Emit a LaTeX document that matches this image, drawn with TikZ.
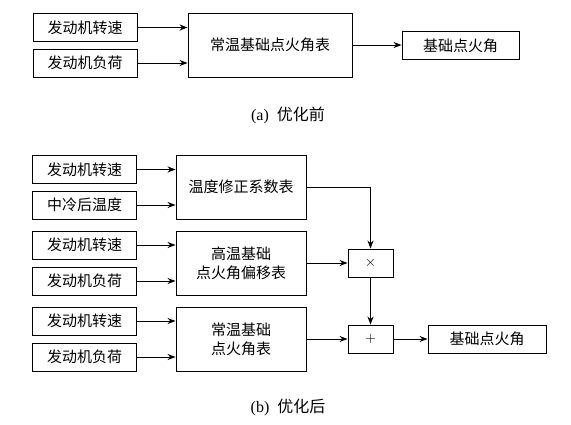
\documentclass[tikz,border=0pt]{standalone}
\usepackage{fontspec}
\newfontfamily\cjk{Noto Sans CJK SC}
\newfontfamily\capfont{Liberation Serif}
\usetikzlibrary{arrows.meta}

\tikzset{
  inbox/.style={draw, line width=0.9pt, minimum width=104pt, minimum height=28pt,
                inner sep=0pt, font=\cjk\fontsize{15}{18}\selectfont},
  tabbox/.style={draw, line width=0.9pt, minimum height=64pt, inner sep=0pt,
                 align=center, font=\cjk\fontsize{15}{19}\selectfont},
  opbox/.style={draw, line width=0.9pt, minimum width=45pt, minimum height=28pt,
                inner sep=0pt, font=\fontsize{15}{18}\selectfont},
  capnode/.style={font=\capfont\fontsize{16}{19}\selectfont},
  flow/.style={->, line width=0.9pt},
}

\begin{document}
\begin{tikzpicture}[x=1pt, y=-1pt, >={Stealth[length=8pt,width=6pt]}]
  \useasboundingbox (0,0) rectangle (571,425);
  % (a) before
  \node[inbox] (aspeed) at (85,27.5) {发动机转速};
  \node[inbox] (aload) at (85,63) {发动机负荷};
  \node[tabbox, minimum width=164pt] (atab) at (270,45) {常温基础点火角表};
  \node[inbox, minimum width=117pt] (aout) at (460.5,45.5) {基础点火角};
  \draw[flow] (aspeed.east) -- (aspeed.east -| atab.west);
  \draw[flow] (aload.east) -- (aload.east -| atab.west);
  \draw[flow] (atab.east) -- (atab.east -| aout.west);
  \node[capnode] (capa) at (288,115) {(a)\ \ {\cjk 优化前}};
  % (b) after
  \node[inbox] (bspeed) at (84.5,169.5) {发动机转速};
  \node[inbox] (btemp) at (84.5,205) {中冷后温度};
  \node[tabbox, minimum width=130pt] (bcorr) at (241,187) {温度修正系数表};
  \node[inbox] (bspeedh) at (84.5,245) {发动机转速};
  \node[inbox] (bloadh) at (84.5,281) {发动机负荷};
  \node[tabbox, minimum width=130pt] (bhigh) at (241,263) {高温基础\\点火角偏移表};
  \node[inbox] (bspeedn) at (84.5,321) {发动机转速};
  \node[inbox] (bloadn) at (84.5,357) {发动机负荷};
  \node[tabbox, minimum width=130pt] (bbase) at (241,339) {常温基础\\点火角表};
  \node[opbox] (bmul) at (370.5,263) {$\times$};
  \node[opbox] (badd) at (370.5,339) {$+$};
  \node[inbox, minimum width=118pt] (bout) at (487,339) {基础点火角};
  % table inputs
  \foreach \src/\dst in {bspeed/bcorr, btemp/bcorr, bspeedh/bhigh, bloadh/bhigh,
                         bspeedn/bbase, bloadn/bbase}
    \draw[flow] (\src.east) -- (\src.east -| \dst.west);
  % combining
  \draw[flow] (bcorr.east) -| (bmul.north);
  \draw[flow] (bhigh.east) -- (bmul.west);
  \draw[flow] (bmul.south) -- (badd.north);
  \draw[flow] (bbase.east) -- (badd.west);
  \draw[flow] (badd.east) -- (bout.west);
  \node[capnode] (capb) at (288,407) {(b)\ \ {\cjk 优化后}};
\end{tikzpicture}
\end{document}
